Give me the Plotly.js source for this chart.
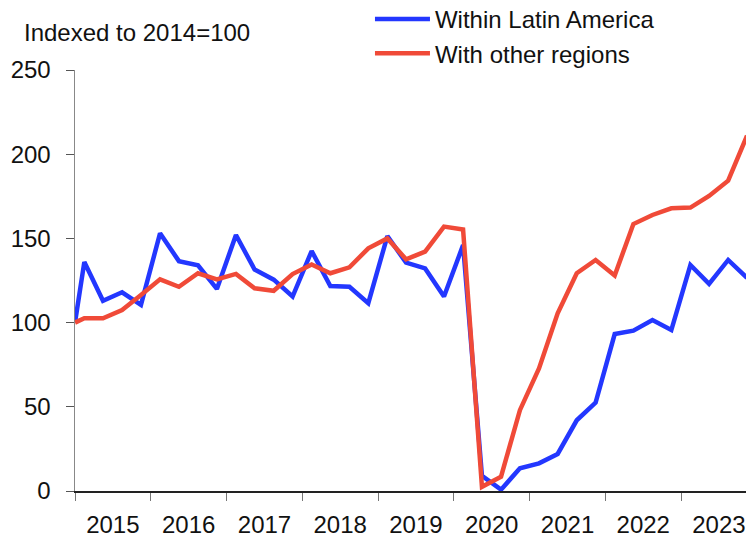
<!DOCTYPE html>
<html>
<head>
<meta charset="utf-8">
<script src="https://cdn.plot.ly/plotly-3.0.1.min.js"></script>
<style>
  html, body { margin: 0; padding: 0; background: #fff; }
  #chart { width: 746px; height: 538px; }
</style>
</head>
<body>
<div id="chart"></div>
<script>
// Quarter positions (first entry = 2014 base, then mid-quarter dates)
const periods = [
  '2015-01-01',
  '2015-02-15','2015-05-16','2015-08-16','2015-11-15',
  '2016-02-15','2016-05-16','2016-08-16','2016-11-15',
  '2017-02-15','2017-05-16','2017-08-16','2017-11-15',
  '2018-02-15','2018-05-16','2018-08-16','2018-11-15',
  '2019-02-15','2019-05-16','2019-08-16','2019-11-15',
  '2020-02-15','2020-05-16','2020-08-16','2020-11-15',
  '2021-02-15','2021-05-16','2021-08-16','2021-11-15',
  '2022-02-15','2022-05-16','2022-08-16','2022-11-15',
  '2023-02-15','2023-05-16','2023-08-16','2023-11-15'
];

const withinLatinAmerica = [
  100,
  136, 113, 118, 110.5,
  153, 136.5, 134, 120,
  152, 131.5, 125.5, 115.5,
  142.5, 121.7, 121.3, 111.5,
  151.4, 135.6, 132.2, 115.5,
  146, 9, 0.8, 13.5,
  16.4, 22, 42, 52.5,
  93.2, 95.2, 101.5, 95.6,
  134.2, 123, 137.2, 126.5
];

const withOtherRegions = [
  100,
  102.6, 102.6, 107.5, 116.4,
  125.7, 121.3, 129.3, 125.7,
  128.9, 120.4, 118.9, 128.8,
  134.5, 129.3, 132.8, 144.1,
  150, 137.6, 142.1, 157,
  155.3, 2.5, 8.5, 48,
  72.8, 105.5, 129.3, 137.2,
  128, 158.5, 163.9, 167.9,
  168.3, 175.2, 184.3, 211
];

const seriesNames = ['Within Latin America', 'With other regions'];
const yTicks = [0, 50, 100, 150, 200, 250];
const subtitle = 'Indexed to 2014=100';

const FONT = 'Liberation Sans, Arial, sans-serif';

const traces = [
  {
    x: periods, y: withinLatinAmerica, name: seriesNames[0],
    type: 'scatter', mode: 'lines',
    line: { color: '#2337FF', width: 4.5 }
  },
  {
    x: periods, y: withOtherRegions, name: seriesNames[1],
    type: 'scatter', mode: 'lines',
    line: { color: '#F04A38', width: 4.5 }
  }
];

const layout = {
  width: 746, height: 538,
  margin: { l: 75, r: 0, t: 70, b: 47, autoexpand: false },
  paper_bgcolor: '#fff', plot_bgcolor: '#fff',
  font: { family: FONT, size: 24, color: '#111' },
  showlegend: true,
  legend: {
    x: 0.4396, xanchor: 'left',
    y: 1.1734, yref: 'paper', yanchor: 'top',
    itemwidth: 55,
    font: { family: FONT, size: 24, color: '#111' },
    bgcolor: 'rgba(0,0,0,0)', borderwidth: 0
  },
  xaxis: {
    type: 'date',
    range: ['2015-01-01', '2023-11-10'],
    tick0: '2015-01-01', dtick: 'M12',
    ticklabelmode: 'period', tickformat: '%Y',
    ticks: 'outside', ticklen: 8, tickcolor: '#777', tickwidth: 1,
    ticklabelstandoff: 4,
    showline: true, linecolor: '#222', linewidth: 1.5,
    showgrid: false, zeroline: false,
    tickfont: { family: FONT, size: 24, color: '#111' }
  },
  yaxis: {
    range: [0, 250],
    tickmode: 'array', tickvals: yTicks, ticktext: yTicks.map(String),
    ticks: 'outside', ticklen: 8, tickcolor: '#555', tickwidth: 1,
    ticklabelstandoff: 10,
    showline: true, linecolor: '#888', linewidth: 1.5,
    showgrid: false, zeroline: false,
    tickfont: { family: FONT, size: 24, color: '#111' }
  },
  annotations: [{
    text: subtitle, xref: 'paper', yref: 'paper',
    x: -0.079, xanchor: 'left', y: 1.09, yanchor: 'middle',
    showarrow: false,
    font: { family: FONT, size: 24, color: '#111' }
  }]
};

Plotly.newPlot('chart', traces, layout, { displayModeBar: false, staticPlot: true });
</script>
</body>
</html>
